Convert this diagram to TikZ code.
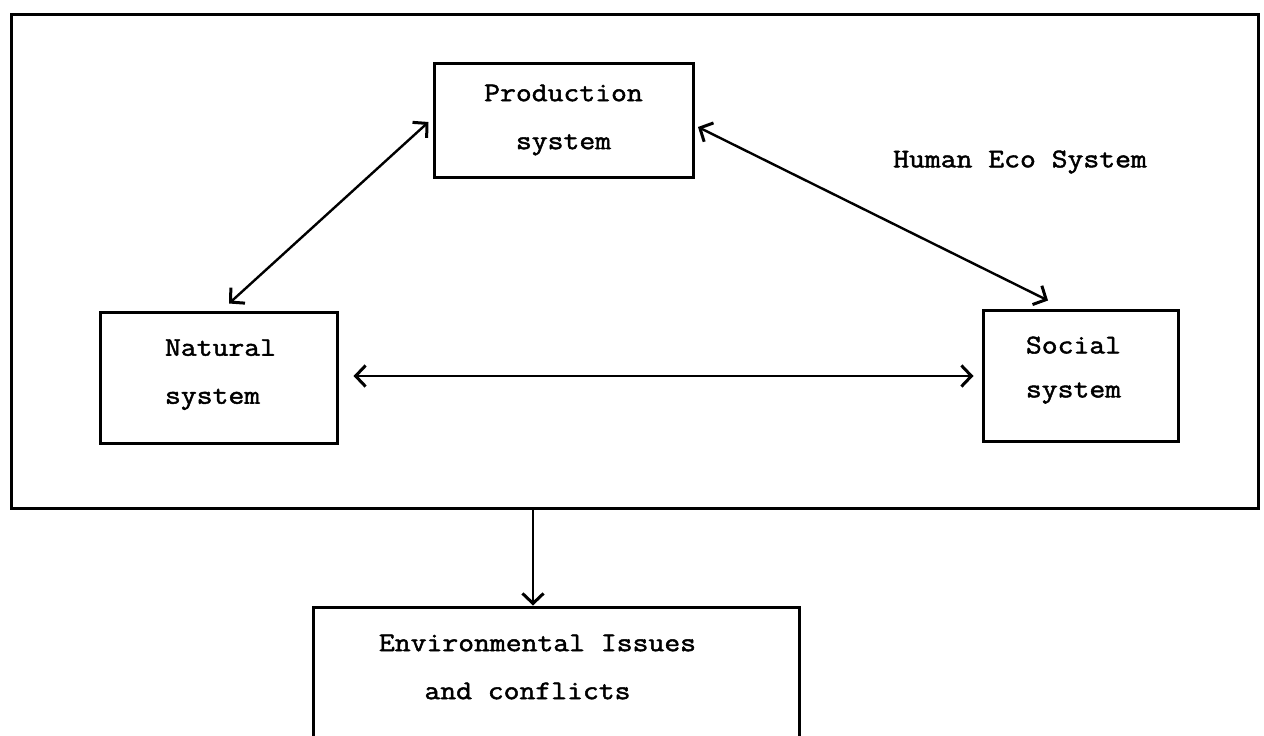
\documentclass[tikz,border=0pt]{standalone}
\usepackage{fontspec}
\newfontfamily\tw[FakeBold=1.8,FakeStretch=1.14]{Latin Modern Mono}
\usetikzlibrary{arrows.meta,calc}
\tikzset{barb/.tip={Straight Barb[length=10pt,width=21pt,line width=3pt]}}
\begin{document}
\begin{tikzpicture}[x=1pt,y=-1pt,
  box/.style={draw,line width=3pt,inner sep=0pt,font=\tw\fontsize{27}{48}\selectfont},
  lbl/.style={inner sep=0pt,font=\tw\fontsize{27}{48}\selectfont},
  arr/.style={line width=2.4pt,barb-barb},
  oneway/.style={line width=2.4pt,-barb}]
\clip (0,0) rectangle (1264,736);
\fill[white] (0,0) rectangle (1264,736);
% outer human eco system box
\node[box,minimum width=1247pt,minimum height=494pt] (eco) at (634.5,261) {};
\node[lbl,anchor=west] (ecolbl) at (893,162) {Human Eco System};
% inner boxes
\node[box,minimum width=259pt,minimum height=114pt,align=center] (prod) at (563.5,120) {Production\\system};
\node[box,minimum width=237pt,minimum height=131pt,align=left] (nat) at (218.5,377.5) {\hspace*{4pt}Natural\\\hspace*{4pt}system\rule[-12pt]{0pt}{12pt}};
\node[box,minimum width=195pt,minimum height=131pt,align=left] (soc) at (1080.5,375.5) {Social\\[-4pt]system\hspace*{14pt}\rule[-17pt]{0pt}{17pt}};
% environmental issues box (runs past the bottom edge)
\node[box,minimum width=486pt,minimum height=193pt] (env) at (556,703.5) {};
\node[lbl,align=center] (envlbl) at (537.5,667) {Environmental Issues\\\hspace*{-20pt}and conflicts};
% connectors
\draw[arr] ([shift={(-4,2)}]prod.west) -- ([shift={(10.5,-7)}]nat.north);
\draw[arr] ([shift={(3.5,7)}]prod.east) -- ([shift={(-32.5,-8)}]soc.north);
\draw[arr] ([shift={(15,-1.5)}]nat.east) -- ([shift={(-8,0.5)}]soc.west);
\draw[oneway] ([xshift=-23pt]env.north |- eco.south) -- ([xshift=-23pt]env.north);
\end{tikzpicture}
\end{document}
